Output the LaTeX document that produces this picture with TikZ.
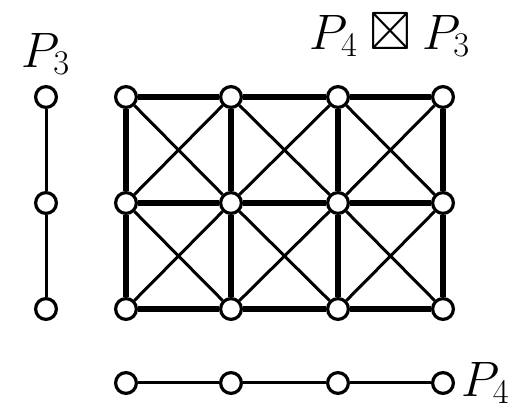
\documentclass[tikz,border=0pt]{standalone}
\usepackage{amsmath}
\usepackage{amssymb}
\usetikzlibrary{positioning}
\tikzset{
  vtx/.style={circle,draw,fill=white,line width=1.6pt,minimum size=10.4pt,inner sep=0pt},
  thinedge/.style={line width=1.5pt},
  thickedge/.style={line width=3.2pt}
}
\newcommand{\LblFont}{\fontsize{27}{31}\selectfont}

\begin{document}
\begin{tikzpicture}[x=0.5pt,y=-0.5pt]
\useasboundingbox (0,0) rectangle (526,411);
% strong product grid
\foreach \i/\x in {1/126,2/231,3/338,4/443} {
  \foreach \j/\y in {1/97,2/203,3/309} {
    \node[vtx] (g\i\j) at (\x,\y) {};
  }
}
\foreach \i/\k in {1/2,2/3,3/4} {
  \foreach \j in {1,2,3} {
    \draw[thickedge] (g\i\j) -- (g\k\j);
  }
  \foreach \j/\l in {1/2,2/3} {
    \draw[thinedge] (g\i\j) -- (g\k\l);
    \draw[thinedge] (g\i\l) -- (g\k\j);
  }
}
\foreach \i in {1,...,4} {
  \foreach \j/\l in {1/2,2/3} {
    \draw[thickedge] (g\i\j) -- (g\i\l);
  }
}
% P3 on the left
\foreach \j/\y in {1/97,2/203,3/309} {
  \node[vtx] (a\j) at (46,\y) {};
}
\draw[thinedge] (a1) -- (a2);
\draw[thinedge] (a2) -- (a3);
% P4 below
\foreach \i/\x in {1/126,2/231,3/338,4/443} {
  \node[vtx] (b\i) at (\x,383) {};
}
\foreach \i/\k in {1/2,2/3,3/4} {
  \draw[thinedge] (b\i) -- (b\k);
}
% labels
\node[font=\LblFont,inner sep=0pt] (lblA) at (46,54) {$P_3$};
\node[font=\LblFont,inner sep=0pt] (lblG) at (390,35) {$P_4 \boxtimes P_3$};
\node[font=\LblFont,anchor=west,inner sep=0pt] (lblB) at ([xshift=3pt]b4.east) {$P_4$};
\end{tikzpicture}
\end{document}
